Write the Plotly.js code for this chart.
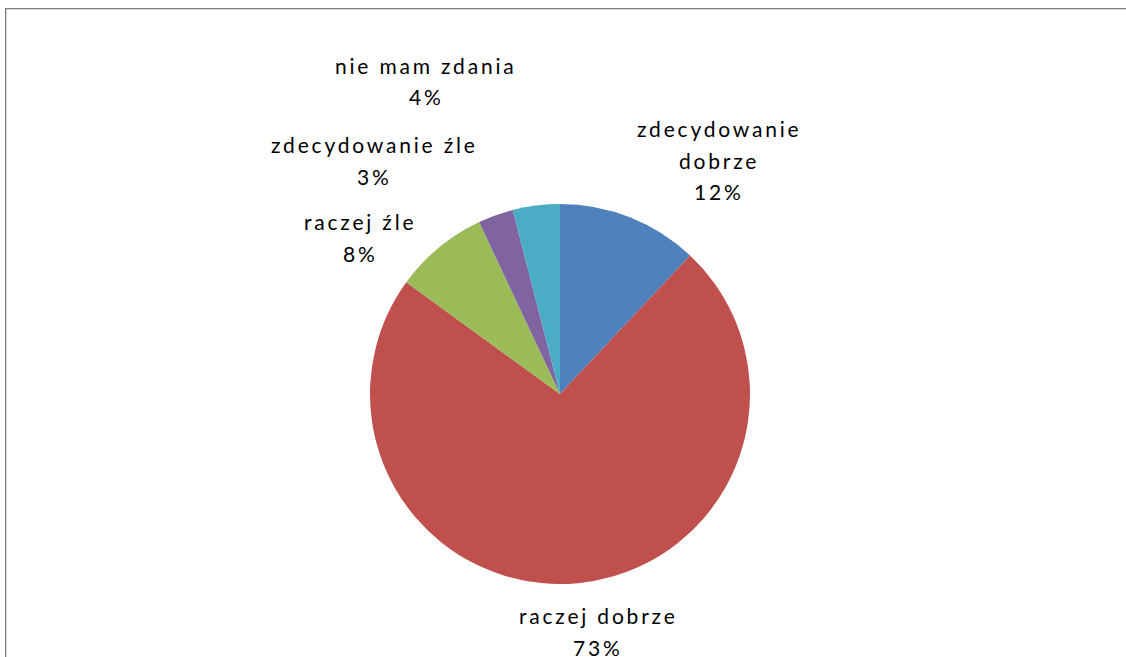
<!DOCTYPE html>
<html>
<head>
<meta charset="utf-8">
<script src="https://cdn.plot.ly/plotly-3.0.1.min.js"></script>
<style>
html,body{margin:0;padding:0;background:#fff;overflow:hidden;}
#wrap{position:relative;width:1126px;height:657px;overflow:hidden;background:#fff;}
#chart{position:absolute;left:0;top:0;width:1126px;height:657px;}
.hline{position:absolute;left:5px;top:8px;width:1121px;height:1px;background:#7f7f7f;z-index:2;}
.hline2{position:absolute;left:6px;top:9px;width:1120px;height:1px;background:#d4d4d4;z-index:2;}
.vline{position:absolute;left:5px;top:8px;width:1px;height:649px;background:#7f7f7f;z-index:2;}
.vline2{position:absolute;left:6px;top:9px;width:1px;height:648px;background:#d4d4d4;z-index:2;}
.annotation-text{letter-spacing:2.8px;}
</style>
</head>
<body>
<div id="wrap">
<div id="chart"></div>
<div class="hline"></div><div class="hline2"></div>
<div class="vline"></div><div class="vline2"></div>
</div>
<script>
// data
const categories = ["zdecydowanie dobrze", "raczej dobrze", "raczej źle", "zdecydowanie źle", "nie mam zdania"];
const values = [12, 73, 8, 3, 4];
const colors = ["#4F81BD", "#C0504D", "#9BBB59", "#8064A2", "#4BACC6"];
// how each data label is broken into lines
const labelLines = [["zdecydowanie", "dobrze"], ["raczej dobrze"], ["raczej źle"], ["zdecydowanie źle"], ["nie mam zdania"]];
// label block positions in pixels: centre x, first line y
const labelX = [719, 598, 360, 374, 426];
const labelY = [128, 615, 221, 144, 65];
const lineStep = 32;

const W = 1126, H = 657, M = {l: 0, r: 0, t: 204, b: 73};
const total = values.reduce((a, b) => a + b, 0);

const data = [{
  type: "pie",
  labels: categories,
  values: values,
  sort: false,
  direction: "clockwise",
  rotation: 0,
  marker: {colors: colors, line: {width: 0}},
  textinfo: "none",
  domain: {x: [0, 1120 / 1126], y: [0, 1]},
  hoverinfo: "none"
}];

const annotations = [];
categories.forEach((c, i) => {
  const lines = labelLines[i].concat([Math.round(values[i] / total * 100) + "%"]);
  lines.forEach((t, j) => {
    const py = labelY[i] + j * lineStep;
    annotations.push({
      text: t,
      xref: "paper", yref: "paper",
      x: labelX[i] / (W - M.l - M.r),
      y: (H - M.b - py) / (H - M.t - M.b),
      xanchor: "center", yanchor: "middle",
      showarrow: false,
      font: {family: "Lato, 'Liberation Sans', sans-serif", size: 21, color: "#000"}
    });
  });
});

const layout = {
  width: W,
  height: H,
  margin: M,
  showlegend: false,
  paper_bgcolor: "rgba(0,0,0,0)",
  annotations: annotations
};

Plotly.newPlot("chart", data, layout, {staticPlot: true, displayModeBar: false});
</script>
</body>
</html>
